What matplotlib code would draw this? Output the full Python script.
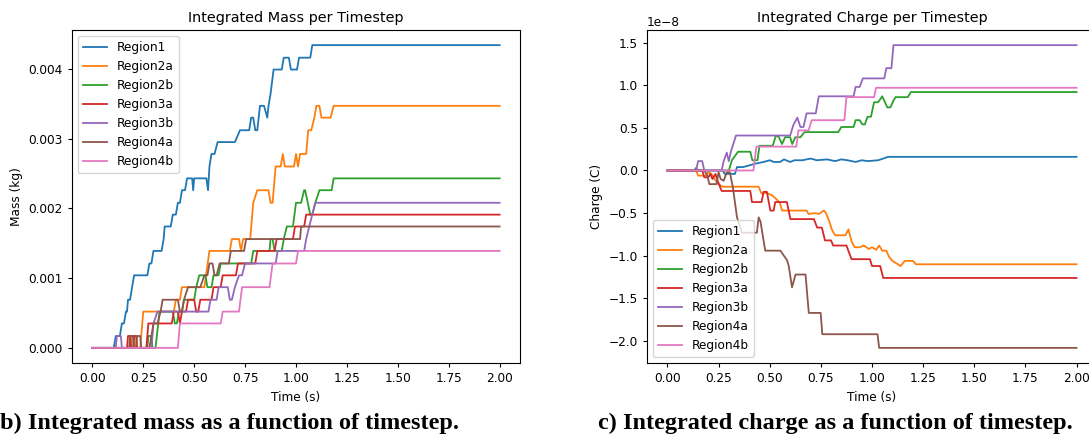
import matplotlib.pyplot as plt
import numpy as np

labels = ['Region1', 'Region2a', 'Region2b', 'Region3a', 'Region3b', 'Region4a', 'Region4b']

# integrated mass, (time in s, mass in 1e-3 kg) at the bends of each curve
mass_region1 = [(0, 0), (0.105, 0), (0.115, 0.17), (0.135, 0.17), (0.145, 0.35), (0.155, 0.35), (0.165, 0.52),
                (0.17, 0.52), (0.175, 0.69), (0.185, 0.69), (0.195, 0.87), (0.205, 1.04), (0.27, 1.04), (0.28, 1.21),
                (0.29, 1.21), (0.3, 1.39), (0.34, 1.39), (0.35, 1.56), (0.355, 1.74), (0.385, 1.74), (0.395, 1.91),
                (0.41, 1.91), (0.42, 2.08), (0.43, 2.08), (0.44, 2.26), (0.455, 2.26), (0.465, 2.43), (0.49, 2.43),
                (0.495, 2.26), (0.5, 2.43), (0.56, 2.43), (0.568, 2.26), (0.575, 2.6), (0.585, 2.78), (0.6, 2.78),
                (0.615, 2.95), (0.7, 2.95), (0.725, 3.12), (0.77, 3.12), (0.78, 3.3), (0.79, 3.3), (0.8, 3.12),
                (0.81, 3.12), (0.823, 3.47), (0.843, 3.47), (0.859, 3.3), (0.865, 3.47), (0.875, 3.64), (0.89, 3.99),
                (0.93, 3.99), (0.94, 4.16), (0.965, 4.16), (0.975, 3.99), (1.005, 3.99), (1.015, 4.16), (1.07, 4.16),
                (1.08, 4.34), (2.0, 4.34)]
mass_region2a = [(0, 0), (0.19, 0), (0.195, 0.17), (0.205, 0.17), (0.21, 0), (0.235, 0), (0.25, 0.52), (0.4, 0.52),
                 (0.41, 0.69), (0.43, 0.69), (0.44, 0.87), (0.55, 0.87), (0.575, 1.39), (0.675, 1.39), (0.685, 1.56),
                 (0.72, 1.56), (0.73, 1.39), (0.74, 1.56), (0.775, 1.56), (0.79, 2.08), (0.81, 2.26), (0.865, 2.26),
                 (0.875, 2.08), (0.885, 2.08), (0.9, 2.6), (0.925, 2.6), (0.935, 2.78), (0.945, 2.6), (0.99, 2.6),
                 (1.0, 2.78), (1.01, 2.6), (1.02, 2.78), (1.05, 2.78), (1.06, 3.12), (1.075, 3.12), (1.09, 3.3),
                 (1.1, 3.47), (1.115, 3.47), (1.125, 3.3), (1.17, 3.3), (1.185, 3.47), (2.0, 3.47)]
mass_region2b = [(0, 0), (0.27, 0), (0.275, 0.17), (0.29, 0.17), (0.295, 0), (0.31, 0), (0.33, 0.52), (0.395, 0.52),
                 (0.405, 0.35), (0.415, 0.35), (0.425, 0.52), (0.44, 0.52), (0.45, 0.69), (0.5, 0.69), (0.51, 0.87),
                 (0.525, 1.04), (0.555, 1.04), (0.565, 0.87), (0.585, 0.87), (0.595, 1.04), (0.62, 1.04),
                 (0.63, 1.21), (0.78, 1.21), (0.79, 1.39), (0.87, 1.39), (0.875, 1.56), (0.885, 1.56), (0.895, 1.39),
                 (0.93, 1.39), (0.94, 1.56), (0.955, 1.74), (0.985, 1.74), (1.0, 2.08), (1.025, 2.08), (1.04, 2.26),
                 (1.045, 2.26), (1.07, 1.91), (1.08, 1.91), (1.095, 2.08), (1.115, 2.26), (1.175, 2.26),
                 (1.185, 2.43), (2.0, 2.43)]
mass_region3a = [(0, 0), (0.17, 0), (0.175, 0.17), (0.185, 0.17), (0.19, 0), (0.2, 0), (0.205, 0.17), (0.215, 0.17),
                 (0.22, 0), (0.265, 0), (0.275, 0.35), (0.39, 0.35), (0.4, 0.52), (0.42, 0.52), (0.43, 0.35),
                 (0.44, 0.52), (0.46, 0.52), (0.47, 0.69), (0.5, 0.69), (0.51, 0.52), (0.52, 0.52), (0.53, 0.69),
                 (0.585, 0.69), (0.595, 0.87), (0.63, 0.87), (0.64, 1.04), (0.705, 1.04), (0.715, 1.21), (0.8, 1.21),
                 (0.81, 1.39), (0.895, 1.39), (0.905, 1.56), (0.985, 1.56), (0.995, 1.74), (1.04, 1.74),
                 (1.05, 1.91), (2.0, 1.91)]
mass_region3b = [(0, 0), (0.115, 0), (0.12, 0.17), (0.14, 0.17), (0.145, 0), (0.29, 0), (0.3, 0.35), (0.32, 0.52),
                 (0.57, 0.52), (0.58, 0.69), (0.61, 0.69), (0.62, 0.87), (0.665, 0.87), (0.675, 0.69), (0.685, 0.69),
                 (0.7, 0.87), (0.72, 1.04), (0.735, 1.04), (0.75, 1.21), (0.9, 1.21), (0.91, 1.39), (1.04, 1.39),
                 (1.05, 1.56), (1.065, 1.74), (1.08, 1.91), (1.095, 2.08), (2.0, 2.08)]
mass_region4a = [(0, 0), (0.18, 0), (0.185, 0.17), (0.2, 0.17), (0.205, 0), (0.215, 0), (0.22, 0.17), (0.235, 0.17),
                 (0.24, 0), (0.28, 0), (0.29, 0.17), (0.3, 0.35), (0.32, 0.35), (0.335, 0.52), (0.345, 0.69),
                 (0.42, 0.69), (0.43, 0.52), (0.44, 0.52), (0.45, 0.69), (0.47, 0.87), (0.53, 0.87), (0.55, 1.04),
                 (0.565, 1.04), (0.575, 1.21), (0.59, 1.21), (0.6, 1.04), (0.61, 1.04), (0.625, 1.21), (0.67, 1.21),
                 (0.68, 1.39), (0.745, 1.39), (0.755, 1.56), (1.02, 1.56), (1.025, 1.74), (2.0, 1.74)]
mass_region4b = [(0, 0), (0.42, 0), (0.43, 0.35), (0.63, 0.35), (0.64, 0.52), (0.72, 0.52), (0.735, 0.87),
                 (0.87, 0.87), (0.885, 1.21), (1.0, 1.21), (1.01, 1.39), (2.0, 1.39)]

# integrated charge, (time in s, charge in 1e-8 C)
charge_region1 = [(0, 0), (0.13, 0), (0.14, 0.03), (0.15, 0), (0.27, 0), (0.28, -0.04), (0.33, -0.04), (0.34, 0.04),
                  (0.37, 0.04), (0.4, 0.06), (0.43, 0.08), (0.47, 0.1), (0.5, 0.12), (0.52, 0.1), (0.55, 0.1),
                  (0.57, 0.13), (0.6, 0.1), (0.62, 0.12), (0.66, 0.12), (0.7, 0.14), (0.73, 0.12), (0.78, 0.13),
                  (0.82, 0.11), (0.85, 0.13), (0.88, 0.12), (0.92, 0.1), (0.95, 0.12), (0.98, 0.11), (1.03, 0.12),
                  (1.08, 0.16), (2.0, 0.16)]
charge_region2a = [(0, 0), (0.14, 0), (0.15, -0.06), (0.19, -0.06), (0.2, -0.02), (0.215, -0.04), (0.23, -0.1),
                   (0.25, -0.16), (0.27, -0.19), (0.445, -0.19), (0.46, -0.27), (0.48, -0.26), (0.51, -0.29),
                   (0.53, -0.33), (0.55, -0.38), (0.56, -0.47), (0.68, -0.47), (0.69, -0.51), (0.72, -0.5),
                   (0.74, -0.51), (0.765, -0.47), (0.775, -0.5), (0.79, -0.59), (0.805, -0.7), (0.82, -0.76),
                   (0.87, -0.76), (0.885, -0.69), (0.9, -0.83), (0.915, -0.9), (0.94, -0.9), (0.96, -0.88),
                   (0.985, -0.92), (1.0, -0.9), (1.02, -0.93), (1.035, -0.88), (1.05, -0.94), (1.07, -0.94),
                   (1.085, -1.02), (1.1, -1.06), (1.14, -1.12), (1.16, -1.06), (1.2, -1.06), (1.215, -1.1), (2.0, -1.1)]
charge_region2b = [(0, 0), (0.3, 0), (0.315, 0.12), (0.345, 0.22), (0.405, 0.22), (0.415, 0.12), (0.44, 0.12),
                   (0.45, 0.29), (0.515, 0.29), (0.53, 0.41), (0.545, 0.39), (0.56, 0.31), (0.575, 0.39),
                   (0.6, 0.39), (0.61, 0.31), (0.625, 0.39), (0.65, 0.39), (0.67, 0.45), (0.835, 0.45),
                   (0.85, 0.51), (0.91, 0.51), (0.92, 0.59), (0.94, 0.59), (0.953, 0.54), (0.965, 0.54),
                   (0.978, 0.63), (0.995, 0.63), (1.01, 0.8), (1.03, 0.8), (1.05, 0.87), (1.075, 0.74), (1.09, 0.74),
                   (1.105, 0.82), (1.115, 0.86), (1.175, 0.86), (1.19, 0.92), (2.0, 0.92)]
charge_region3a = [(0, 0), (0.17, 0), (0.18, -0.08), (0.2, -0.08), (0.21, -0.04), (0.22, -0.1), (0.235, -0.04),
                   (0.245, -0.12), (0.265, -0.24), (0.405, -0.24), (0.413, -0.37), (0.46, -0.37), (0.47, -0.25),
                   (0.486, -0.25), (0.503, -0.47), (0.519, -0.47), (0.527, -0.37), (0.584, -0.37), (0.601, -0.57),
                   (0.716, -0.57), (0.732, -0.67), (0.755, -0.67), (0.77, -0.82), (0.8, -0.82), (0.81, -0.88),
                   (0.875, -0.88), (0.9, -1.04), (0.99, -1.04), (1.0, -1.12), (1.04, -1.12), (1.055, -1.26),
                   (2.0, -1.26)]
charge_region3b = [(0, 0), (0.14, 0), (0.15, 0.11), (0.17, 0.11), (0.18, 0), (0.265, 0), (0.275, 0.11),
                   (0.29, 0.21), (0.3, 0.11), (0.31, 0.22), (0.335, 0.41), (0.6, 0.41), (0.615, 0.53), (0.635, 0.62),
                   (0.65, 0.51), (0.665, 0.51), (0.68, 0.67), (0.725, 0.67), (0.74, 0.87), (0.91, 0.87),
                   (0.92, 0.98), (0.94, 0.98), (0.955, 1.08), (1.06, 1.08), (1.07, 1.2), (1.095, 1.2), (1.105, 1.47),
                   (2.0, 1.47)]
charge_region4a = [(0, 0), (0.18, 0), (0.195, -0.06), (0.205, -0.16), (0.24, -0.16), (0.25, -0.02), (0.26, -0.1),
                   (0.275, -0.12), (0.29, -0.02), (0.305, -0.02), (0.32, -0.2), (0.34, -0.55), (0.365, -0.73),
                   (0.437, -0.73), (0.446, -0.55), (0.455, -0.6), (0.478, -0.94), (0.552, -0.94), (0.584, -1.05),
                   (0.593, -1.12), (0.609, -1.37), (0.626, -1.22), (0.675, -1.22), (0.691, -1.67), (0.749, -1.67),
                   (0.757, -1.92), (1.027, -1.92), (1.035, -2.08), (2.0, -2.08)]
charge_region4b = [(0, 0), (0.42, 0), (0.435, 0.28), (0.63, 0.28), (0.64, 0.47), (0.69, 0.47), (0.705, 0.59),
                   (0.865, 0.59), (0.875, 0.86), (1.01, 0.86), (1.02, 0.97), (2.0, 0.97)]

mass_series = [mass_region1, mass_region2a, mass_region2b, mass_region3a, mass_region3b, mass_region4a, mass_region4b]
charge_series = [charge_region1, charge_region2a, charge_region2b, charge_region3a, charge_region3b, charge_region4a,
                 charge_region4b]

plt.rcParams['font.size'] = 8.7
plt.rcParams['xtick.major.size'] = 3
plt.rcParams['ytick.major.size'] = 3

fig = plt.figure(figsize=(10.89, 4.34), dpi=100)
ax1 = fig.add_axes([72 / 1089, 1 - 363 / 434, 448 / 1089, 333 / 434])
ax2 = fig.add_axes([647 / 1089, 1 - 363 / 434, 450 / 1089, 333 / 434])


def draw(ax, series, scale):
    for label, pts in zip(labels, series):
        t, v = zip(*pts)
        ax.plot(t, np.array(v) * scale, lw=1.3, label=label)


draw(ax1, mass_series, 1e-3)
ax1.set_title('Integrated Mass per Timestep', fontsize=10.4)
ax1.set_xlabel('Time (s)')
ax1.set_ylabel('Mass (kg)')
ax1.set_xticks(np.arange(0, 2.01, 0.25))
ax1.legend(loc='upper left')

draw(ax2, charge_series, 1e-8)
ax2.set_title('Integrated Charge per Timestep', fontsize=10.4)
ax2.set_xlabel('Time (s)')
ax2.set_ylabel('Charge (C)')
ax2.set_xticks(np.arange(0, 2.01, 0.25))
ax2.legend(loc='lower left')

cap_font = dict(fontsize=17.5, fontweight='bold', family='Liberation Serif')
fig.text(0.0, 0.012, 'b) Integrated mass as a function of timestep.', **cap_font)
fig.text(598 / 1089, 0.012, 'c) Integrated charge as a function of timestep.', **cap_font)

fig.savefig('out.png', dpi=100)
